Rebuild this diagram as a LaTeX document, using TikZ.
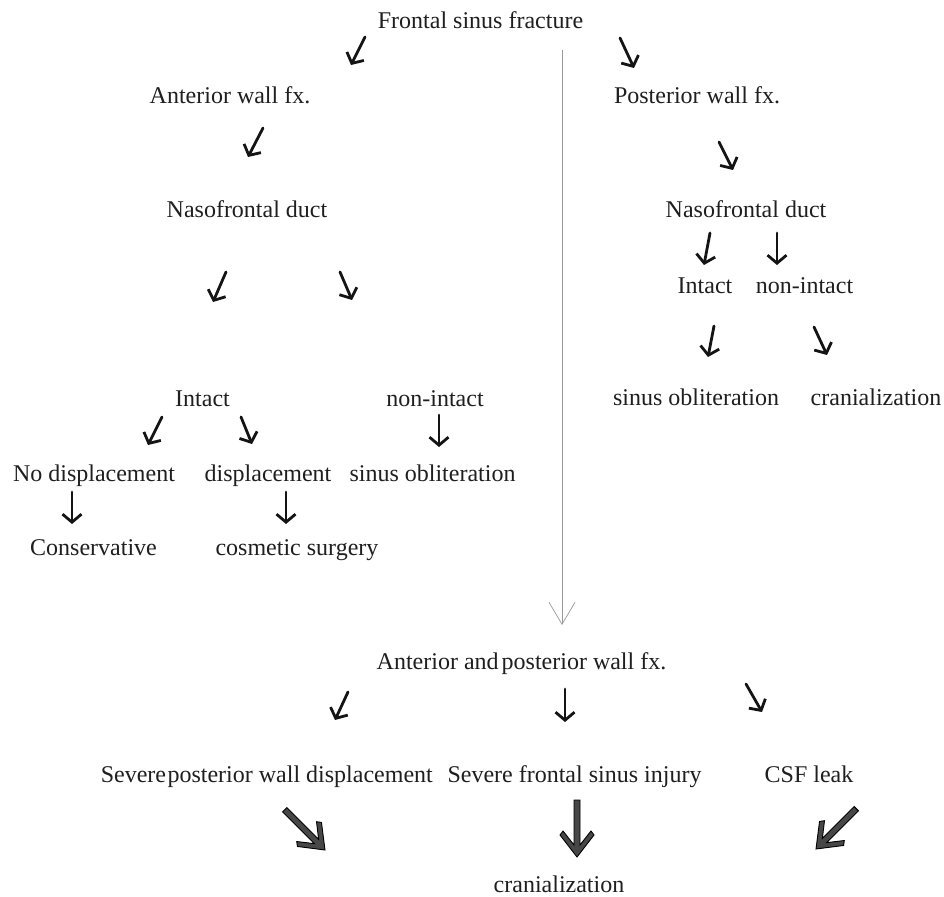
\documentclass[tikz,border=0pt]{standalone}
\usepackage{fontspec}
\setmainfont{Liberation Serif}
\usetikzlibrary{arrows.meta}
\begin{document}
\begin{tikzpicture}[x=1pt,y=-1pt,
  lbl/.style={anchor=base,inner sep=0pt,font=\fontsize{24}{28}\selectfont,text=black!88},
  harr/.style={line width=2.8pt,line cap=round,line join=round,draw=black!92,
    -{Straight Barb[length=8pt,width=19pt,line width=2.8pt]}},
  guide/.style={draw=black!40,line width=0.7pt,
    -{Straight Barb[length=22pt,width=26pt,line width=0.7pt]}},
  pics/bigarrow/.style={code={
    \path[draw=black,fill=black!72,line width=0.9pt,line join=miter]
      (-3,-57) -- (3,-57) -- (3,-12) -- (14,-26) -- (17,-22) -- (0,0)
      -- (-17,-22) -- (-14,-26) -- (-3,-12) -- cycle;}}
]
\fill[white] (0,0) rectangle (944,896);
\useasboundingbox (0,0) rectangle (944,896);

% labels
\node[lbl] (fsf)  at (480.5,29)  {Frontal sinus fracture};
\node[lbl] (awf)  at (230,104)   {Anterior wall fx.};
\node[lbl] (pwf)  at (697,104)   {Posterior wall fx.};
\node[lbl] (nfl)  at (247,217)   {Nasofrontal duct};
\node[lbl] (nfr)  at (746,217)   {Nasofrontal duct};
\node[lbl] (inr)  at (705,293)   {Intact};
\node[lbl] (nir)  at (804.5,293) {non-intact};
\node[lbl] (sor)  at (696,405)   {sinus obliteration};
\node[lbl] (crr)  at (876,405)   {cranialization};
\node[lbl] (inl)  at (202.5,406) {Intact};
\node[lbl] (nil)  at (435,406)   {non-intact};
\node[lbl] (nod)  at (94,481)    {No displacement};
\node[lbl] (dis)  at (268,481)   {displacement};
\node[lbl] (sol)  at (432.5,481) {sinus obliteration};
\node[lbl] (con)  at (93.5,555)  {Conservative};
\node[lbl] (cos)  at (297,555)   {cosmetic surgery};
\node[lbl] (apw)  at (521.5,669) {Anterior and\hspace{3pt}posterior wall fx.};
\node[lbl,anchor=base east] (spw) at (433,782) {Severe\hspace{1.5pt}posterior wall displacement};
\node[lbl] (sfs)  at (574.5,782) {Severe frontal sinus injury};
\node[lbl] (csf)  at (809,782)   {CSF leak};
\node[lbl] (crb)  at (559,892)   {cranialization};

% small hand-drawn arrows
\foreach \n/\a/\b/\c/\d in {
  1/365/37/351/65, 2/620/38/634/68, 3/263/128/248/157,
  4/226/272/213/302, 5/340/272/352/300, 6/719/142/733/170,
  7/710/233/704/265, 8/777/233/777/265, 9/714/326/708/357,
  10/814/327/827/355, 11/162/417/148/445, 12/241/417/252/444,
  13/439/415/439/447, 14/72/492/72/524, 15/286/492/286/524,
  16/348/692/335/720, 17/565/689/565/722, 18/746/684/762/712}{
  \coordinate (s\n) at (\a,\b);
  \coordinate (e\n) at (\c,\d);
  \draw[harr] (s\n) -- (e\n);
}

% long guide arrow
\coordinate (gtop) at (562,50);
\coordinate (gbot) at (562,625);
\draw[guide] (gtop) -- (gbot);

% big arrows
\coordinate (b1) at (325,850);
\coordinate (b2) at (577,857);
\coordinate (b3) at (816,849);
\pic[rotate=45] at (b1) {bigarrow};
\pic at (b2) {bigarrow};
\pic[rotate=-45] at (b3) {bigarrow};
\end{tikzpicture}
\end{document}
